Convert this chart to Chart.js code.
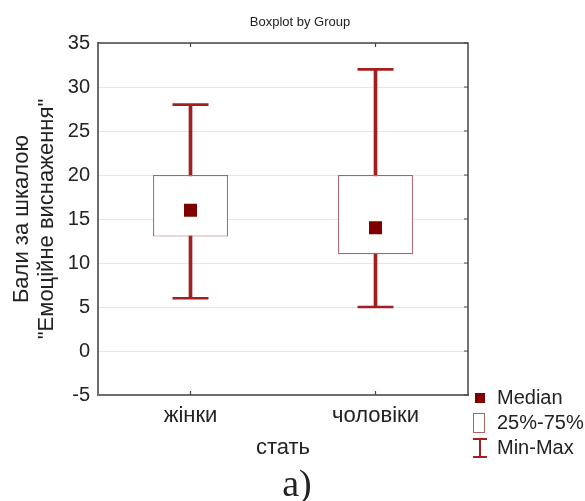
<!DOCTYPE html>
<html lang="uk">
<head>
    <meta charset="UTF-8">
    <title>Boxplot by Group</title>
    <script src="https://cdn.jsdelivr.net/npm/chart.js"></script>
    <style>
        body {
            margin: 0;
            background: #ffffff;
        }
        #boxChart {
            display: block;
        }
    </style>
</head>
<body>
    <canvas id="boxChart" width="585" height="501"></canvas>

    <script>
        // Data
        const groups = ['жінки', 'чоловіки'];
        const minValues = [6, 5];
        const q1Values = [13, 11];
        const medianValues = [16, 14];
        const q3Values = [20, 20];
        const maxValues = [28, 32];
        const yTicks = [-5, 0, 5, 10, 15, 20, 25, 30, 35];
        const legendLabels = ['Median', '25%-75%', 'Min-Max'];

        const chartTitle = 'Boxplot by Group';
        const yTitle = ['Бали за шкалою', '"Емоційне виснаження"'];
        const xTitle = 'стать';
        const caption = 'а)';

        const sans = "'Liberation Sans', Arial, sans-serif";
        const whiskerColor = '#a31f1f';
        const medianColor = '#800000';
        const boxBorder = '#a86464';
        const textColor = '#222222';

        // frame, inner ticks, legend, title and caption
        const decorations = {
            id: 'decorations',
            afterDraw(chart) {
                const { ctx, chartArea: a, scales } = chart;
                ctx.save();

                // top and right border
                ctx.strokeStyle = '#444444';
                ctx.lineWidth = 1.5;
                ctx.beginPath();
                ctx.moveTo(a.left, a.top);
                ctx.lineTo(a.right, a.top);
                ctx.lineTo(a.right, a.bottom);
                ctx.stroke();

                // inner tick marks
                ctx.lineWidth = 1.2;
                ctx.beginPath();
                yTicks.forEach(v => {
                    const py = scales.y.getPixelForValue(v);
                    ctx.moveTo(a.right, py);
                    ctx.lineTo(a.right - 4, py);
                });
                groups.forEach((g, i) => {
                    const px = scales.x.getPixelForValue(i);
                    ctx.moveTo(px, a.top);
                    ctx.lineTo(px, a.top + 4);
                    ctx.moveTo(px, a.bottom);
                    ctx.lineTo(px, a.bottom - 4);
                });
                ctx.stroke();

                // legend
                const lx = a.right + 7;
                const ly = a.bottom + 3;
                const step = 25;
                ctx.fillStyle = medianColor;
                ctx.fillRect(lx, ly - 5, 10, 10);

                ctx.fillStyle = '#ffffff';
                ctx.strokeStyle = boxBorder;
                ctx.lineWidth = 1;
                ctx.fillRect(lx - 1.5, ly + step - 9.5, 11, 19);
                ctx.strokeRect(lx - 1.5, ly + step - 9.5, 11, 19);

                ctx.strokeStyle = whiskerColor;
                ctx.lineWidth = 2;
                ctx.beginPath();
                const iy = ly + 2 * step;
                ctx.moveTo(lx - 2, iy - 9);
                ctx.lineTo(lx + 12, iy - 9);
                ctx.moveTo(lx + 5, iy - 9);
                ctx.lineTo(lx + 5, iy + 9);
                ctx.moveTo(lx - 2, iy + 9);
                ctx.lineTo(lx + 12, iy + 9);
                ctx.stroke();

                ctx.fillStyle = textColor;
                ctx.font = '20px ' + sans;
                ctx.textAlign = 'left';
                ctx.textBaseline = 'middle';
                legendLabels.forEach((t, i) => ctx.fillText(t, lx + 22, ly + i * step));

                // title on top
                ctx.font = '13px ' + sans;
                ctx.textAlign = 'center';
                ctx.fillText(chartTitle, 300, 22);

                // caption under the chart
                ctx.font = "38px 'Liberation Serif', 'Times New Roman', serif";
                ctx.textBaseline = 'alphabetic';
                ctx.fillText(caption, 297, 496);

                ctx.restore();
            }
        };

        const ctx = document.getElementById('boxChart').getContext('2d');

        new Chart(ctx, {
            type: 'bar',
            data: {
                labels: groups,
                datasets: [
                    {
                        // median marker
                        type: 'line',
                        label: 'Median',
                        data: medianValues,
                        showLine: false,
                        pointStyle: 'rect',
                        pointRadius: 9.2,
                        pointBackgroundColor: medianColor,
                        pointBorderWidth: 0,
                        order: 0
                    },
                    {
                        // upper whisker cap
                        type: 'line',
                        label: 'Max',
                        data: maxValues,
                        showLine: false,
                        pointStyle: 'line',
                        pointRadius: 18,
                        pointBorderColor: whiskerColor,
                        pointBorderWidth: 2.6,
                        order: 1
                    },
                    {
                        // lower whisker cap
                        type: 'line',
                        label: 'Min',
                        data: minValues,
                        showLine: false,
                        pointStyle: 'line',
                        pointRadius: 18,
                        pointBorderColor: whiskerColor,
                        pointBorderWidth: 2.6,
                        order: 1
                    },
                    {
                        // 25%-75% box
                        label: '25%-75%',
                        data: groups.map((g, i) => [q1Values[i], q3Values[i]]),
                        backgroundColor: '#ffffff',
                        borderColor: boxBorder,
                        borderWidth: 1.2,
                        borderSkipped: false,
                        grouped: false,
                        categoryPercentage: 1,
                        barPercentage: 0.405,
                        order: 2
                    },
                    {
                        // min-max whisker
                        label: 'Min-Max',
                        data: groups.map((g, i) => [minValues[i], maxValues[i]]),
                        backgroundColor: whiskerColor,
                        borderWidth: 0,
                        grouped: false,
                        barThickness: 3,
                        order: 3
                    }
                ]
            },
            options: {
                responsive: false,
                animation: false,
                devicePixelRatio: 1,
                layout: {
                    padding: { top: 43, left: 0, right: 0, bottom: 0 }
                },
                scales: {
                    x: {
                        grid: { display: false, drawTicks: false },
                        border: { color: '#6e6e6e', width: 2 },
                        ticks: {
                            color: textColor,
                            padding: 8,
                            font: { family: sans, size: 22 }
                        },
                        title: {
                            display: true,
                            text: xTitle,
                            color: textColor,
                            padding: { top: 0, bottom: 40 },
                            font: { family: sans, size: 22 }
                        },
                        afterFit: (scale) => { scale.height = 106; }
                    },
                    y: {
                        min: -5,
                        max: 35,
                        afterBuildTicks: (scale) => {
                            scale.ticks = yTicks.map(v => ({ value: v }));
                        },
                        grid: { color: '#e6e6e6', drawTicks: false },
                        border: { color: '#6e6e6e', width: 2 },
                        ticks: {
                            color: textColor,
                            padding: 8,
                            font: { family: sans, size: 20 }
                        },
                        title: {
                            display: true,
                            text: yTitle,
                            color: textColor,
                            padding: { top: 9, bottom: 0 },
                            font: { family: sans, size: 22, lineHeight: 1.14 }
                        },
                        afterFit: (scale) => { scale.width = 98; }
                    },
                    y2: {
                        position: 'right',
                        ticks: { display: false },
                        grid: { display: false, drawTicks: false },
                        border: { display: false },
                        afterFit: (scale) => { scale.width = 117; }
                    }
                },
                plugins: {
                    legend: { display: false },
                    tooltip: { enabled: false },
                    title: { display: false }
                }
            },
            plugins: [decorations]
        });
    </script>
</body>
</html>
